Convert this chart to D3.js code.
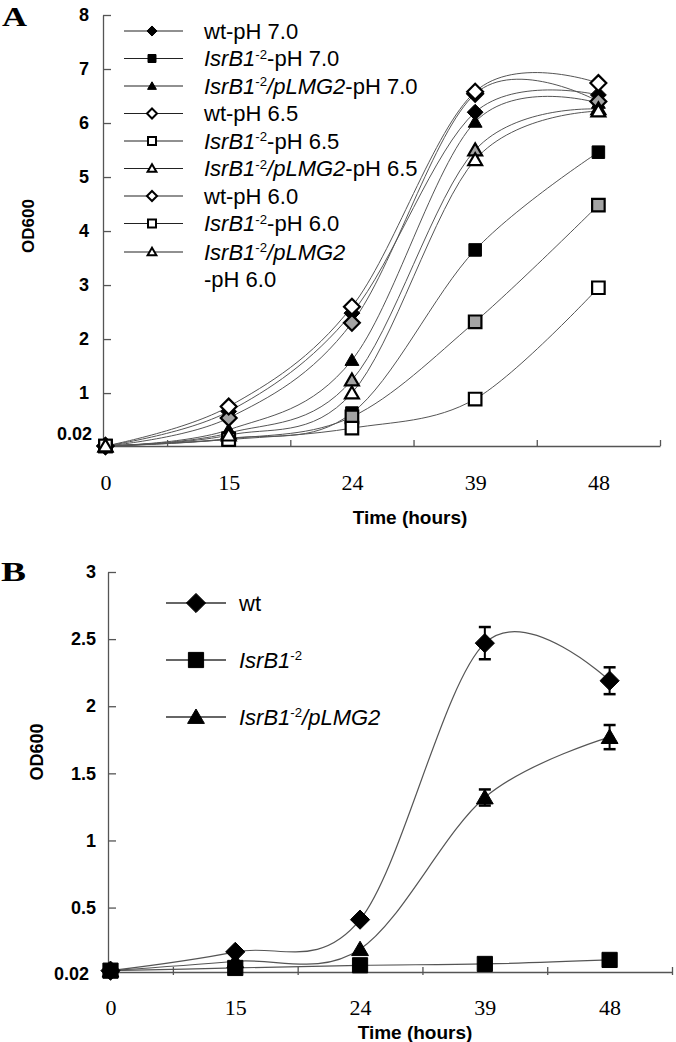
<!DOCTYPE html>
<html><head><meta charset="utf-8">
<script src="https://cdn.jsdelivr.net/npm/d3@7"></script>
<style>body{margin:0;background:#fff}svg{display:block}</style>
</head><body><svg id="c" width="676" height="1042"></svg>
<script>
// ---------------- DATA ----------------
const hours = ["0", "15", "24", "39", "48"];
const yTicksA = [1, 2, 3, 4, 5, 6, 7, 8];
const yTicksB = [0.5, 1, 1.5, 2, 2.5, 3];
const baseLabel = "0.02";

// Panel A (OD600 at pH 7.0 / 6.5 / 6.0)
const wtPH70  = [0.02, 0.66, 2.48, 6.20, 6.52];
const isrPH70 = [0.02, 0.16, 0.63, 3.65, 5.46];
const comPH70 = [0.02, 0.32, 1.61, 6.02, 6.37];
const wtPH65  = [0.02, 0.54, 2.30, 6.54, 6.40];
const isrPH65 = [0.02, 0.15, 0.56, 2.32, 4.48];
const comPH65 = [0.02, 0.26, 1.24, 5.50, 6.26];
const wtPH60  = [0.02, 0.75, 2.60, 6.58, 6.74];
const isrPH60 = [0.02, 0.14, 0.35, 0.89, 2.95];
const comPH60 = [0.02, 0.22, 1.00, 5.32, 6.22];

// Panel B
const wtB     = [0.03, 0.17, 0.41, 2.47, 2.19];
const wtBErr  = [0, 0, 0, 0.12, 0.10];
const isrB    = [0.03, 0.05, 0.07, 0.08, 0.11];
const isrBErr = [0, 0, 0, 0, 0];
const comB    = [0.03, 0.10, 0.19, 1.32, 1.77];
const comBErr = [0, 0, 0, 0.06, 0.09];

// --------------- STYLE MAPS ---------------
const FILL = {"7.0": "#000", "6.5": "#a3a3a3", "6.0": "#fff"};
const seriesA = [
  {strain: "wt",  ph: "7.0", shape: "diamond",  values: wtPH70},
  {strain: "isr", ph: "7.0", shape: "square",   values: isrPH70},
  {strain: "com", ph: "7.0", shape: "triangle", values: comPH70},
  {strain: "wt",  ph: "6.5", shape: "diamond",  values: wtPH65},
  {strain: "isr", ph: "6.5", shape: "square",   values: isrPH65},
  {strain: "com", ph: "6.5", shape: "triangle", values: comPH65},
  {strain: "wt",  ph: "6.0", shape: "diamond",  values: wtPH60},
  {strain: "isr", ph: "6.0", shape: "square",   values: isrPH60},
  {strain: "com", ph: "6.0", shape: "triangle", values: comPH60}
];
const seriesB = [
  {strain: "wt",  shape: "diamond",  values: wtB,  err: wtBErr},
  {strain: "isr", shape: "square",   values: isrB, err: isrBErr},
  {strain: "com", shape: "triangle", values: comB, err: comBErr}
];

const SANS = "'Liberation Sans', Arial, Helvetica, sans-serif";
const SERIF = "'Liberation Serif', 'Times New Roman', serif";
const svg = d3.select("#c");
svg.append("rect").attr("width", 676).attr("height", 1042).attr("fill", "#fff");

function shapePath(shape, r) {
  if (shape === "diamond") return `M0,${-r}L${r},0L0,${r}L${-r},0Z`;
  if (shape === "square") return `M${-r},${-r}H${r}V${r}H${-r}Z`;
  return `M0,${-r}L${r*1.05},${r*0.8}L${-r*1.05},${r*0.8}Z`;
}
function markerSize(shape, base) {
  return shape === "diamond" ? base * 1.2 : shape === "square" ? base * 0.95 : base;
}

function labelParts(strain, ph) {
  const p = [];
  if (strain === "wt") { p.push({t: "wt" + (ph ? "-pH " + ph : "")}); return p; }
  p.push({t: "IsrB1", i: true}, {t: "-2", sup: true});
  if (strain === "com") p.push({t: "/pLMG2", i: true});
  if (ph) p.push({t: "-pH " + ph});
  return p;
}
function writeParts(textSel, parts) {
  let raised = false;
  parts.forEach(pt => {
    const ts = textSel.append("tspan").text(pt.t);
    if (pt.i) ts.attr("font-style", "italic");
    if (pt.sup) { ts.attr("font-size", "0.6em").attr("dy", "-0.55em"); raised = true; }
    else if (raised) { ts.attr("dy", "0.33em"); raised = false; }
  });
}

// ================= PANEL A =================
const xA = d3.scaleLinear().domain([-0.02, 4.5]).range([103, 660]);
const yA = d3.scaleLinear().domain([0.02, 8]).range([446, 15]);
const gA = svg.append("g");

// axes
const yAxisA = gA.append("g").attr("transform", `translate(${xA(-0.02)},0)`)
  .call(d3.axisLeft(yA).tickValues(yTicksA).tickSizeInner(-8).tickSizeOuter(0).tickPadding(14));
const xAxisA = gA.append("g").attr("transform", `translate(0,${yA(0.02)})`)
  .call(d3.axisBottom(xA).tickValues([0.5, 1.5, 2.5, 3.5, 4.5]).tickSizeInner(-6).tickSizeOuter(0).tickFormat(""));
const xLabA = gA.append("g").attr("transform", `translate(0,${yA(0.02)})`)
  .call(d3.axisBottom(xA).tickValues([0, 1, 2, 3, 4]).tickSize(0).tickPadding(28).tickFormat(i => hours[i]));
xLabA.select(".domain").remove();
[yAxisA, xAxisA].forEach(a => {
  a.selectAll("path,line").attr("stroke", "#555").attr("stroke-width", 1.3);
});
yAxisA.selectAll("text").attr("font-family", SANS).attr("font-weight", "bold").attr("font-size", 18).attr("fill", "#000");
xLabA.selectAll("text").attr("font-family", SERIF).attr("font-size", 22).attr("fill", "#000");
gA.append("text").attr("x", 92).attr("y", yA(0.02) - 12).attr("dy", "0.35em")
  .attr("text-anchor", "end").attr("font-family", SANS).attr("font-weight", "bold").attr("font-size", 18)
  .text(baseLabel);

// lines
const lineA = d3.line().x((d, i) => xA(i)).y(d => yA(d)).curve(d3.curveCardinal.tension(0));
seriesA.forEach(s => {
  gA.append("path").attr("d", lineA(s.values)).attr("fill", "none").attr("stroke", "#555").attr("stroke-width", 1);
});
// markers
seriesA.forEach(s => {
  s.values.forEach((v, i) => {
    gA.append("path").attr("d", shapePath(s.shape, markerSize(s.shape, 6.6)))
      .attr("transform", `translate(${xA(i)},${yA(v)})`)
      .attr("fill", FILL[s.ph]).attr("stroke", "#000")
      .attr("stroke-width", s.ph === "7.0" ? 1 : 2.2).attr("stroke-linejoin", "miter");
  });
});

// legend A
const legA = gA.append("g");
seriesA.forEach((s, k) => {
  const cy = 31 + k * 27.5 + (k === 8 ? 1 : 0);
  legA.append("line").attr("x1", 124).attr("x2", 183).attr("y1", cy).attr("y2", cy)
    .attr("stroke", "#222").attr("stroke-width", 1.2);
  legA.append("path").attr("d", shapePath(s.shape, markerSize(s.shape, 4.2)))
    .attr("transform", `translate(152,${cy})`)
    .attr("fill", s.ph === "7.0" ? "#000" : "#fff").attr("stroke", "#000")
    .attr("stroke-width", s.ph === "7.0" ? 1 : 2);
  const last = k === seriesA.length - 1;
  const t = legA.append("text").attr("x", 204).attr("y", cy).attr("dy", "0.35em")
    .attr("font-family", SANS).attr("font-size", 22).attr("fill", "#000");
  writeParts(t, labelParts(s.strain, last ? null : s.ph));
  if (last) {
    legA.append("text").attr("x", 204).attr("y", cy + 27).attr("dy", "0.35em")
      .attr("font-family", SANS).attr("font-size", 22).attr("fill", "#000").text("-pH " + s.ph);
  }
});

// titles A
gA.append("text").attr("transform", "translate(28,226) rotate(-90)").attr("text-anchor", "middle")
  .attr("dy", "0.35em").attr("font-family", SANS).attr("font-weight", "bold").attr("font-size", 17).text("OD600");
gA.append("text").attr("x", 410).attr("y", 517).attr("dy", "0.35em").attr("text-anchor", "middle")
  .attr("font-family", SANS).attr("font-weight", "bold").attr("font-size", 19).text("Time (hours)");
gA.append("text").attr("x", 2).attr("y", 26).attr("font-family", SERIF).attr("font-weight", "bold")
  .attr("font-size", 27).attr("textLength", 25).attr("lengthAdjust", "spacingAndGlyphs").text("A");

// ================= PANEL B =================
const xB = d3.scaleLinear().domain([-0.02, 4.5]).range([108, 672]);
const yB = d3.scaleLinear().domain([0.02, 3]).range([972, 572]);
const gB = svg.append("g");

const yAxisB = gB.append("g").attr("transform", `translate(${xB(-0.02)},0)`)
  .call(d3.axisLeft(yB).tickValues(yTicksB).tickSizeInner(-8).tickSizeOuter(0).tickPadding(12).tickFormat(d3.format("")));
const xAxisB = gB.append("g").attr("transform", `translate(0,${yB(0.02)})`)
  .call(d3.axisBottom(xB).tickValues([0.5, 1.5, 2.5, 3.5, 4.5]).tickSizeInner(-5).tickSizeOuter(0).tickFormat(""));
const xAxisB2 = gB.append("g").attr("transform", `translate(0,${yB(0.02)})`)
  .call(d3.axisBottom(xB).tickValues([0.5, 1.5, 2.5, 3.5, 4.5]).tickSizeInner(3).tickSizeOuter(0).tickFormat(""));
xAxisB2.select(".domain").remove();
const xLabB = gB.append("g").attr("transform", `translate(0,${yB(0.02)})`)
  .call(d3.axisBottom(xB).tickValues([0, 1, 2, 3, 4]).tickSize(0).tickPadding(27).tickFormat(i => hours[i]));
xLabB.select(".domain").remove();
[yAxisB, xAxisB, xAxisB2].forEach(a => {
  a.selectAll("path,line").attr("stroke", "#555").attr("stroke-width", 1.3);
});
yAxisB.selectAll("text").attr("font-family", SANS).attr("font-weight", "bold").attr("font-size", 18).attr("fill", "#000");
xLabB.selectAll("text").attr("font-family", SERIF).attr("font-size", 22).attr("fill", "#000");
gB.append("text").attr("x", 89).attr("y", yB(0.02) + 2).attr("dy", "0.35em")
  .attr("text-anchor", "end").attr("font-family", SANS).attr("font-weight", "bold").attr("font-size", 18)
  .text(baseLabel);

const lineB = d3.line().x((d, i) => xB(i)).y(d => yB(d)).curve(d3.curveCardinal.tension(0));
seriesB.forEach(s => {
  gB.append("path").attr("d", lineB(s.values)).attr("fill", "none").attr("stroke", "#555").attr("stroke-width", 1.2);
});
seriesB.forEach(s => {
  s.values.forEach((v, i) => {
    const e = s.err[i];
    if (e > 0) {
      const x = xB(i), y1 = yB(v - e), y2 = yB(v + e);
      gB.append("line").attr("x1", x).attr("x2", x).attr("y1", y1).attr("y2", y2).attr("stroke", "#000").attr("stroke-width", 2);
      [y1, y2].forEach(yy => gB.append("line").attr("x1", x - 6).attr("x2", x + 6).attr("y1", yy).attr("y2", yy)
        .attr("stroke", "#000").attr("stroke-width", 2.5));
    }
    gB.append("path").attr("d", shapePath(s.shape, markerSize(s.shape, 8)))
      .attr("transform", `translate(${xB(i)},${yB(v)})`).attr("fill", "#000").attr("stroke", "#000").attr("stroke-width", 1);
  });
});

// legend B
seriesB.forEach((s, k) => {
  const cy = 603 + k * 57;
  gB.append("line").attr("x1", 166).attr("x2", 226).attr("y1", cy).attr("y2", cy).attr("stroke", "#333").attr("stroke-width", 1.3);
  gB.append("path").attr("d", shapePath(s.shape, markerSize(s.shape, 8)))
    .attr("transform", `translate(196,${cy})`).attr("fill", "#000").attr("stroke", "#000");
  const t = gB.append("text").attr("x", 239).attr("y", cy).attr("dy", "0.35em")
    .attr("font-family", SANS).attr("font-size", 22).attr("fill", "#000");
  writeParts(t, labelParts(s.strain, null));
});

gB.append("text").attr("transform", "translate(37,752) rotate(-90)").attr("text-anchor", "middle")
  .attr("dy", "0.35em").attr("font-family", SANS).attr("font-weight", "bold").attr("font-size", 18).text("OD600");
gB.append("text").attr("x", 415).attr("y", 1032).attr("dy", "0.35em").attr("text-anchor", "middle")
  .attr("font-family", SANS).attr("font-weight", "bold").attr("font-size", 19).text("Time (hours)");
gB.append("text").attr("x", 1).attr("y", 581).attr("font-family", SERIF).attr("font-weight", "bold")
  .attr("font-size", 27).attr("textLength", 25).attr("lengthAdjust", "spacingAndGlyphs").text("B");
</script></body></html>
